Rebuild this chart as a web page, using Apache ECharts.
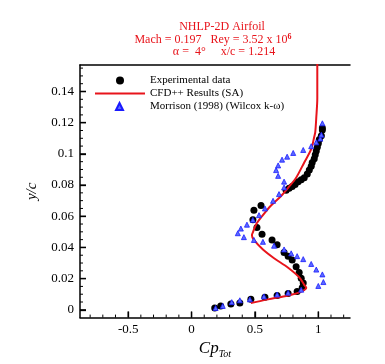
<!DOCTYPE html>
<html>
<head>
<meta charset="utf-8">
<script src="https://cdn.jsdelivr.net/npm/echarts@6/dist/echarts.min.js"></script>
<style>
  html, body { margin: 0; padding: 0; background: #fff; }
  #chart { width: 385px; height: 364px; }
</style>
</head>
<body>
<div id="chart"></div>
<script>
// experimental data  [Cp_Tot, y/c]
const expData = [
  [0.183, 0.0012], [0.230, 0.0025], [0.310, 0.0037], [0.381, 0.0043],
  [0.468, 0.0067], [0.579, 0.0080], [0.675, 0.0092], [0.762, 0.0104],
  [0.833, 0.0117], [0.873, 0.0141], [0.881, 0.0172], [0.865, 0.0202],
  [0.849, 0.0239], [0.825, 0.0276], [0.794, 0.0319], [0.762, 0.0344],
  [0.730, 0.0368], [0.675, 0.0417], [0.635, 0.0448], [0.556, 0.0485],
  [0.516, 0.0528], [0.484, 0.0577], [0.492, 0.0638], [0.548, 0.0669],
  [0.746, 0.0767], [0.770, 0.0779], [0.794, 0.0791], [0.817, 0.0804],
  [0.841, 0.0822], [0.865, 0.0834], [0.889, 0.0847], [0.913, 0.0871],
  [0.929, 0.0896], [0.944, 0.0920], [0.952, 0.0945], [0.968, 0.0969],
  [0.976, 0.0994], [0.984, 0.1018], [0.992, 0.1043], [1.000, 0.1067],
  [1.008, 0.1092], [1.024, 0.1117], [1.032, 0.1153], [1.032, 0.1166]
];

// CFD++ (SA) profile
const cfdData = [
  [0.992, 0.160], [0.992, 0.1356], [0.984, 0.1233], [0.976, 0.1140],
  [0.968, 0.1110], [0.944, 0.1030], [0.889, 0.0945], [0.825, 0.0847],
  [0.770, 0.0791], [0.706, 0.0730], [0.627, 0.0669], [0.563, 0.0607],
  [0.508, 0.0546], [0.484, 0.0497], [0.476, 0.0479], [0.492, 0.0448],
  [0.563, 0.0387], [0.651, 0.0331], [0.762, 0.0270], [0.849, 0.0209],
  [0.889, 0.0160], [0.905, 0.0141], [0.865, 0.0117], [0.762, 0.0092],
  [0.603, 0.0067], [0.468, 0.0043]
];

// Morrison (1998) Wilcox k-omega
const morrisonData = [
  [0.190, 0.0012], [0.246, 0.0025], [0.317, 0.0049], [0.381, 0.0061],
  [0.460, 0.0067], [0.571, 0.0086], [0.675, 0.0098], [0.762, 0.0110],
  [0.865, 0.0129], [1.000, 0.0153], [1.040, 0.0178], [1.032, 0.0227],
  [0.984, 0.0258], [0.944, 0.0294], [0.881, 0.0325], [0.833, 0.0344],
  [0.786, 0.0362], [0.730, 0.0387], [0.651, 0.0411], [0.563, 0.0436],
  [0.492, 0.0448], [0.413, 0.0466], [0.365, 0.0491], [0.389, 0.0521],
  [0.437, 0.0546], [0.484, 0.0577], [0.532, 0.0607], [0.579, 0.0650],
  [0.643, 0.0699], [0.690, 0.0742], [0.730, 0.0785], [0.730, 0.0822],
  [0.683, 0.0859], [0.667, 0.0896], [0.683, 0.0926], [0.714, 0.0963],
  [0.754, 0.0982], [0.802, 0.1006], [0.881, 0.1025], [0.944, 0.1049],
  [0.984, 0.1074], [1.016, 0.1098], [1.024, 0.1123], [1.032, 0.1196]
];

const xLabels = [-0.5, 0, 0.5, 1];
const xMinor = [-0.8, -0.7, -0.6, -0.4, -0.3, -0.2, -0.1, 0.1, 0.2, 0.3, 0.4, 0.6, 0.7, 0.8, 0.9, 1.1, 1.2];
const yLabels = [0, 0.02, 0.04, 0.06, 0.08, 0.1, 0.12, 0.14];
const yMinor = [0.005, 0.01, 0.015, 0.025, 0.03, 0.035, 0.045, 0.05, 0.055, 0.065, 0.07, 0.075,
  0.085, 0.09, 0.095, 0.105, 0.11, 0.115, 0.125, 0.13, 0.135, 0.145, 0.15, 0.155];

const serif = 'Liberation Serif';
const red = '#e8141b';
const xMin = -0.88, xMax = 1.25, yMin = -0.005, yMax = 0.157;

// tick marks as [x, y, length]; x ticks sit on yMin, y ticks on xMin
const tickData = []
  .concat(xLabels.map(v => [v, yMin, 6]))
  .concat(xMinor.map(v => [v, yMin, 3]))
  .concat(yLabels.map(v => [xMin, v, -6]))
  .concat(yMinor.map(v => [xMin, v, -3]));

const chart = echarts.init(document.getElementById('chart'));

const titleStyle = { fontFamily: serif, fontSize: 12, fontWeight: 'normal', color: red };
const legendText = { fontFamily: serif, fontSize: 11, color: '#000' };

function renderTick(params, api) {
  const p = api.coord([api.value(0), api.value(1)]);
  const len = api.value(2);
  const shape = len > 0
    ? { x1: p[0], y1: p[1], x2: p[0], y2: p[1] - len }
    : { x1: p[0], y1: p[1], x2: p[0] - len, y2: p[1] };
  return {
    type: 'line', shape: shape,
    style: { stroke: '#000', lineWidth: Math.abs(len) > 4 ? 1.3 : 1 }
  };
}

const option = {
  animation: false,
  title: [
    { text: 'NHLP-2D Airfoil', left: 217, top: 16, textAlign: 'center', textStyle: titleStyle },
    {
      text: '{a|Mach = 0.197   Rey = 3.52 x 10}{s|6}', left: 208, top: 28, textAlign: 'center',
      textStyle: {
        rich: {
          a: titleStyle,
          s: { fontFamily: serif, fontSize: 8, color: red, verticalAlign: 'top', padding: [0, 0, 6, 0] }
        }
      }
    },
    { text: 'α =  4°     x/c = 1.214', left: 219, top: 41, textAlign: 'center', textStyle: titleStyle }
  ],
  legend: [
    {
      orient: 'vertical', left: 89, top: 70,
      itemWidth: 50, itemHeight: 8, itemGap: 2,
      textStyle: legendText,
      data: [
        { name: 'Experimental data', icon: 'circle' },
        { name: 'CFD++ Results (SA)', itemStyle: { opacity: 0, borderWidth: 0 } }
      ]
    },
    {
      orient: 'vertical', left: 110, top: 96,
      itemWidth: 7, itemHeight: 7,
      textStyle: Object.assign({ padding: [0, 0, 0, 22] }, legendText),
      data: [{ name: 'Morrison (1998) (Wilcox k-ω)', icon: 'triangle' }]
    }
  ],
  grid: { left: 80, top: 65, width: 270, height: 264 },
  xAxis: [
    {
      type: 'value', min: xMin, max: xMax, position: 'bottom',
      splitLine: { show: false },
      axisLine: { show: true, onZero: false, lineStyle: { color: '#000', width: 1.5 } },
      axisTick: { show: true, inside: true, length: 6, customValues: xLabels, lineStyle: { color: '#000', width: 1.3 } },
      axisLabel: { customValues: xLabels, fontFamily: serif, fontSize: 13, color: '#000', margin: 5 },
      name: '{c|Cp}{t|Tot}', nameLocation: 'middle', nameGap: 20,
      nameTextStyle: {
        rich: {
          c: { fontFamily: serif, fontStyle: 'italic', fontSize: 17, color: '#000' },
          t: { fontFamily: serif, fontStyle: 'italic', fontSize: 10, color: '#000', padding: [10, 0, 0, 0] }
        }
      }
    },
    {
      type: 'value', min: xMin, max: xMax, position: 'top',
      splitLine: { show: false },
      axisLine: { show: true, onZero: false, lineStyle: { color: '#000', width: 1.5 } },
      axisTick: { show: false },
      axisLabel: { show: false }
    }
  ],
  yAxis: {
    type: 'value', min: yMin, max: yMax, position: 'left',
    splitLine: { show: false },
    axisLine: { show: true, onZero: false, lineStyle: { color: '#000', width: 1.5 } },
    axisTick: { show: true, inside: true, length: 6, customValues: yLabels, lineStyle: { color: '#000', width: 1.3 } },
    axisLabel: { customValues: yLabels, fontFamily: serif, fontSize: 13, color: '#000', margin: 6 },
    name: 'y/c', nameLocation: 'middle', nameGap: 40, nameRotate: 90,
    nameTextStyle: { fontFamily: serif, fontStyle: 'italic', fontSize: 15, color: '#000' }
  },
  series: [
    {
      name: 'ticks', type: 'custom', data: tickData, renderItem: renderTick,
      silent: true, clip: false, z: 5
    },
    {
      name: 'Experimental data', type: 'scatter', data: expData,
      symbol: 'circle', symbolSize: 7,
      itemStyle: { color: '#000', opacity: 1 }, z: 2
    },
    {
      name: 'CFD++ Results (SA)', type: 'line', data: cfdData,
      symbol: 'none', smooth: 0.3, clip: true,
      lineStyle: { color: red, width: 2 }, itemStyle: { color: red }, z: 3
    },
    {
      name: 'Morrison (1998) (Wilcox k-ω)', type: 'scatter', data: morrisonData,
      symbol: 'triangle', symbolSize: 5,
      itemStyle: { color: '#5a6bff', borderColor: '#1a1aff', borderWidth: 0.8, opacity: 1 }, z: 4
    }
  ]
};

chart.setOption(option);
</script>
</body>
</html>
